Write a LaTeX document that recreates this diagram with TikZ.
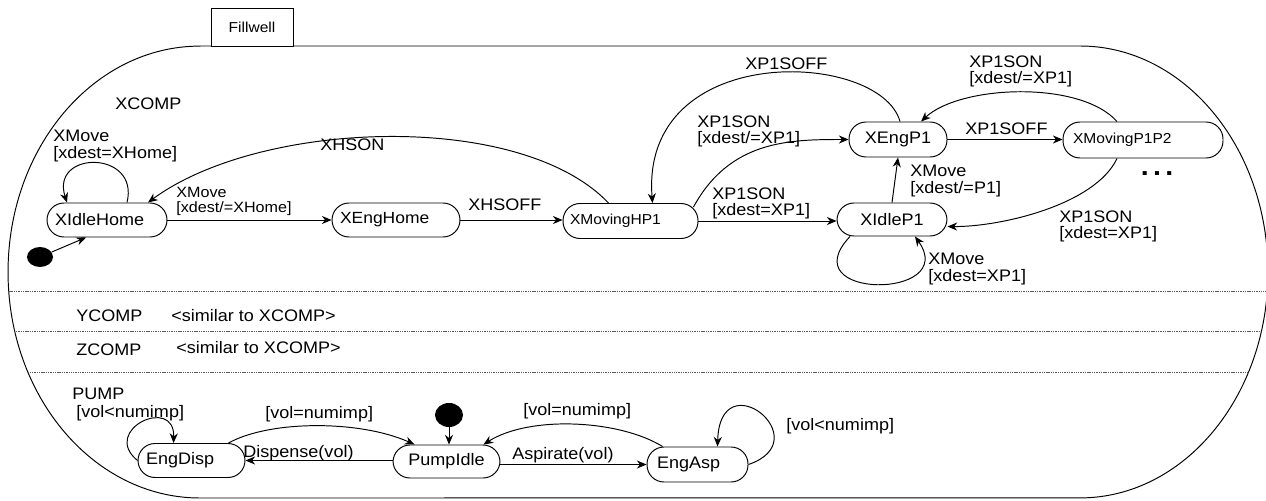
\documentclass[tikz,border=0pt]{standalone}
\usepackage{fontspec}
\setmainfont{Liberation Sans}[FakeStretch=1.08]
\usetikzlibrary{arrows.meta,calc,shapes.geometric}
\newcommand\fwouter{(200,46) -- (1080,46) arc[start angle=90, end angle=-90, x radius=3.76cm, y radius=4.52cm] -- (200,498) arc[start angle=270, end angle=90, x radius=3.84cm, y radius=4.52cm] -- cycle}
\tikzset{
  stbox/.style={draw, line width=0.55pt, rounded corners=0.34cm, minimum height=0.68cm, inner sep=0pt, align=center, font=\fontsize{9.5}{11}\selectfont},
  stboxl/.style={stbox, align=left, inner xsep=0.16cm},
  lab/.style={anchor=north west, inner sep=0pt, align=left, font=\fontsize{9.5}{9.4}\selectfont},
  trans/.style={-{Stealth[length=5.5pt,width=4.6pt]}, line width=0.55pt},
  sepline/.style={dash pattern=on 0.8pt off 0.5pt, line width=0.5pt, black!65},
  initdot/.style={ellipse, fill=black, inner sep=0pt},
}
\begin{document}
\begin{tikzpicture}[x=0.02cm, y=-0.02cm]
\useasboundingbox (0,0) rectangle (1266,500);
% outer composite state
\draw[line width=0.55pt] \fwouter;
\begin{scope}
  \clip \fwouter;
  \draw[sepline] (0,291) -- (1266,291);
  \draw[sepline] (0,331) -- (1266,331);
  \draw[sepline] (0,372) -- (1266,372);
\end{scope}
\node[draw, fill=white, line width=0.55pt, minimum width=1.64cm, minimum height=0.76cm, inner sep=0pt, font=\fontsize{8.2}{9}\selectfont] (tab) at (252,27) {Fillwell};

% states
\node[stboxl, text width=2.08cm] (xih) at (107,220) {XIdleHome};
\node[stboxl, text width=2.24cm, font=\fontsize{9.2}{10}\selectfont] (xeh) at (396,220) {XEngHome};
\node[stboxl, text width=2.42cm, inner xsep=0.14cm, minimum height=0.7cm, font=\fontsize{8.2}{10}\selectfont] (xmhp1) at (630.5,221) {XMovingHP1};
\node[stbox, minimum width=1.96cm, minimum height=0.7cm] (xep1) at (898,139.5) {XEngP1};
\node[stboxl, text width=2.8cm, inner xsep=0.2cm, minimum height=0.72cm, font=\fontsize{8.2}{10}\selectfont] (xmp12) at (1143,140) {XMovingP1P2};
\node[stbox, minimum width=2.2cm, minimum height=0.66cm] (xip1) at (892,219.5) {XIdleP1};
\node[stboxl, text width=1.82cm] (engdisp) at (191.5,460.5) {EngDisp};
\node[stbox, minimum width=2.14cm, minimum height=0.66cm] (pumpidle) at (446.5,461.5) {PumpIdle};
\node[stboxl, text width=1.62cm, inner xsep=0.2cm, minimum height=0.7cm] (engasp) at (697.5,464.5) {EngAsp};

% initial pseudo-states
\node[initdot, minimum width=0.52cm, minimum height=0.4cm] (i1) at (40,257) {};
\node[initdot, minimum width=0.56cm, minimum height=0.48cm] (i2) at (449,415) {};

% XCOMP transitions
\draw[trans] (i1) -- ($(xih.south)+(-21,0)$);
\draw[trans] ($(xih.north)+(20,0)$) .. controls (140,150) and (50,150) .. ($(xih.north)+(-40,0)$);
\draw[trans] (xih.east) -- (xeh.west);
\draw[trans] (xeh.east) -- (xeh.east -| xmhp1.west);
\draw[trans] ($(xmhp1.north)+(-22,0)$) .. controls (520,110) and (260,120) .. ($(xih.north)+(41,0)$);
\draw[trans] ($(xep1.north)+(2,0)$) .. controls (880,50) and (640,40) .. ($(xmhp1.north)+(22,0)$);
\draw[trans] ($(xmhp1.north east)+(-5,4)$) .. controls (730,140) and (790,139.5) .. (xep1.west);
\draw[trans] (xmhp1.east) -- (xmhp1.east -| xip1.west);
\draw[trans] (xip1.north) -- (xep1.south);
\draw[trans] (xep1.east) -- (xep1.east -| xmp12.west);
\draw[trans] ($(xmp12.north)+(-26,0)$) .. controls (1080,80) and (960,85) .. ($(xep1.north)+(23,0)$);
\draw[trans] ($(xmp12.south)+(-26,0)$) .. controls (1095,205) and (1000,227) .. ($(xip1.east)+(0,7)$);
\draw[trans] ($(xip1.south)+(-42,0)$) .. controls (790,300) and (960,300) .. ($(xip1.south)+(23,0)$);

% PUMP transitions
\draw[trans] (i2) -- (i2 |- pumpidle.north);
\draw[trans] (engdisp.west) .. controls (100,430) and (175,395) .. ($(engdisp.north)+(-18,0)$);
\draw[trans] ($(engdisp.north east)+(-17,0)$) .. controls (270,420) and (360,420) .. ($(pumpidle.north west)+(22,0)$);
\draw[trans] (pumpidle.west |- engdisp.east) -- (engdisp.east);
\draw[trans] (pumpidle.east |- engasp.west) -- (engasp.west);
\draw[trans] ($(engasp.north west)+(16,0)$) .. controls (620,420) and (530,415) .. ($(pumpidle.north east)+(-17,0)$);
\draw[trans] (engasp.east) .. controls (820,440) and (720,360) .. ($(engasp.north)+(20,0)$);

% labels
\node[lab] (lxcomp) at (115,97) {XCOMP};
\node[lab] (l1) at (53,130) {XMove\\{}[xdest=XHome]};
\node[lab, font=\fontsize{8.5}{8.6}\selectfont] (l2) at (176,187) {XMove\\{}[xdest/=XHome]};
\node[lab] (l3) at (320,138) {XHSON};
\node[lab] (l4) at (468,198) {XHSOFF};
\node[lab] (l5) at (745,57) {XP1SOFF};
\node[lab] (l6) at (697,115) {XP1SON\\{}[xdest/=XP1]};
\node[lab] (l7) at (712,187) {XP1SON\\{}[xdest=XP1]};
\node[lab] (l8) at (965,122) {XP1SOFF};
\node[lab] (l9) at (969,55) {XP1SON\\{}[xdest/=XP1]};
\node[lab] (l10) at (910,165) {XMove\\{}[xdest/=P1]};
\node[lab] (l11) at (928,253) {XMove\\{}[xdest=XP1]};
\node[lab] (l12) at (1059,210) {XP1SON\\{}[xdest=XP1]};
\node[inner sep=0pt, font=\fontsize{15}{15}\selectfont\bfseries] (dots) at (1157,174) {.\hspace{2.5pt}.\hspace{2.5pt}.};
\node[lab] (lycomp) at (76,309) {YCOMP};
\node[lab] (lysim) at (171,309) {<similar to XCOMP>};
\node[lab] (lzcomp) at (76,343) {ZCOMP};
\node[lab] (lzsim) at (176,341) {<similar to XCOMP>};
\node[lab] (lpump) at (72,388) {PUMP};
\node[lab] (lp1) at (76,405) {[vol<numimp]};
\node[lab] (lp2) at (265,406) {[vol=numimp]};
\node[lab] (lp3) at (243,445) {Dispense(vol)};
\node[lab] (lp4) at (512,447) {Aspirate(vol)};
\node[lab] (lp5) at (523,403) {[vol=numimp]};
\node[lab] (lp6) at (786,418) {[vol<numimp]};
\end{tikzpicture}
\end{document}
